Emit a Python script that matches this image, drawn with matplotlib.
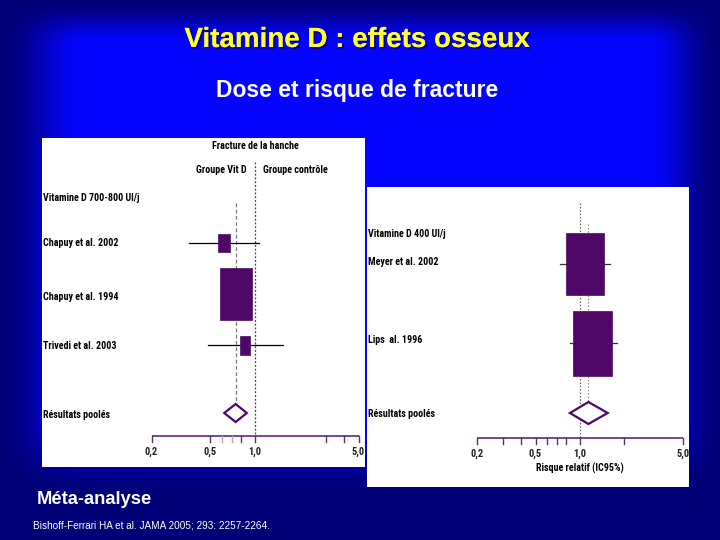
import numpy as np
import matplotlib
matplotlib.use("Agg")
import matplotlib.pyplot as plt
from matplotlib.patches import Rectangle, Polygon
import matplotlib.patheffects as pe

# ---------------- data ----------------
left_header = "Vitamine D 700-800 UI/j"
left_studies = ["Chapuy et al. 2002", "Chapuy et al. 1994", "Trivedi et al. 2003"]
left_rr = [0.62, 0.74, 0.86]
left_lo = [0.36, 0.62, 0.48]
left_hi = [1.06, 0.89, 1.54]
left_pooled = [0.74, 0.62, 0.88]          # rr, lo, hi

right_header = "Vitamine D 400 UI/j"
right_studies = ["Meyer et al. 2002", "Lips  al. 1996"]
right_rr = [1.08, 1.21]
right_lo = [0.73, 0.855]
right_hi = [1.60, 1.77]
right_pooled = [1.14, 0.855, 1.54]

left_ticks = [0.2, 0.5, 0.6, 0.7, 0.8, 1.0, 3.0, 4.0, 5.0]
right_ticks = [0.2, 0.3, 0.4, 0.5, 0.6, 0.7, 0.8, 1.0, 2.0, 5.0]
tick_labels = {0.2: "0,2", 0.5: "0,5", 1.0: "1,0", 5.0: "5,0"}

# ---------------- layout / style ----------------
W, H = 720, 540
PURPLE = "#4e0766"
AXC = "#5e2a72"
NARROW = ["Roboto Condensed", "Liberation Sans Narrow", "DejaVu Sans"]
SANS = ["Liberation Sans", "DejaVu Sans"]

fig = plt.figure(figsize=(7.2, 5.4), dpi=100)

# background gradient
bg = fig.add_axes([0, 0, 1, 1])
yy, xx = np.mgrid[0:H, 0:W].astype(float)
def ss(v):
    v = np.clip(v, 0, 1)
    return v * v * (3 - 2 * v)
t = ss(xx / 85) * ss((W - xx) / 75) * ss(yy / 45) * ss((492 - yy) / 70)
navy = np.array([0.0, 0.0, 0.47])
blue = np.array([0.02, 0.02, 1.0])
img = navy[None, None, :] * (1 - t[..., None]) + blue[None, None, :] * t[..., None]
bg.imshow(img, extent=[0, W, H, 0], aspect="auto")
bg.set_xlim(0, W)
bg.set_ylim(H, 0)
bg.axis("off")

bg.text(357, 40, "Vitamine D : effets osseux", color="#ffff33", fontsize=20,
        fontweight="bold", family=SANS, ha="center", va="center",
        path_effects=[pe.withSimplePatchShadow(offset=(1.2, -1.2),
                                               shadow_rgbFace="#000044", alpha=0.6),
                      pe.Normal()])
bg.text(357, 90, "Dose et risque de fracture", color="white", fontsize=16.5,
        fontweight="bold", family=SANS, ha="center", va="center")
bg.text(37, 500, "Méta-analyse", color="white", fontsize=13.2, fontweight="bold",
        family=SANS, ha="left", va="center")
bg.text(33, 525, "Bishoff-Ferrari HA et al. JAMA 2005; 293: 2257-2264.", color="white",
        fontsize=7.2, family=SANS, ha="left", va="center")


def make_panel(box, a_px, b_px):
    x0, y0, x1, y1 = box
    ax = fig.add_axes([x0 / W, (H - y1) / H, (x1 - x0) / W, (y1 - y0) / H])
    ax.set_facecolor("white")
    ax.set_xscale("log")
    per = (b_px - a_px) / np.log10(25.0)
    lo = 10 ** (np.log10(0.2) - (a_px - x0) / per)
    hi = 10 ** (np.log10(5.0) + (x1 - b_px) / per)
    ax.set_xlim(lo, hi)
    ax.set_ylim(y1, y0)
    ax.set_xticks([])
    ax.set_yticks([])
    ax.minorticks_off()
    for s in ax.spines.values():
        s.set_visible(False)
    px2v = lambda p: 10 ** (np.log10(0.2) + (p - a_px) / per)
    return ax, per, px2v


def draw_box(ax, per, v, yc, wpx, hpx):
    half = wpx / 2 / per
    l = 10 ** (np.log10(v) - half)
    r = 10 ** (np.log10(v) + half)
    ax.add_patch(Rectangle((l, yc - hpx / 2), r - l, hpx, facecolor=PURPLE,
                           edgecolor=PURPLE, lw=0.5, zorder=4))


def draw_diamond(ax, rr, lo, hi, yc, hh):
    ax.add_patch(Polygon([(lo, yc), (rr, yc - hh), (hi, yc), (rr, yc + hh)],
                         closed=True, facecolor="white", edgecolor=PURPLE, lw=1.6, zorder=4))


def draw_axis(ax, ticks, y_axis, minor_light=()):
    ax.plot([0.2, 5.0], [y_axis, y_axis], color=AXC, lw=1.2, zorder=3,
            solid_capstyle="butt")
    for tv in ticks:
        c = "#b9a8c0" if tv in minor_light else AXC
        ax.plot([tv, tv], [y_axis, y_axis + 6], color=c, lw=1.0, zorder=3)
        if tv in tick_labels:
            ax.text(tv, y_axis + 16, tick_labels[tv], ha="center", va="center",
                    fontsize=7.5, fontweight="bold", family=NARROW,
                    fontstretch="condensed", color="#222222")


lab = dict(fontsize=7.2, fontweight="bold", family=NARROW, fontstretch="condensed",
           color="black", va="center")

# ---------------- left panel ----------------
axL, perL, pxL = make_panel((42, 138, 365, 467), 151.5, 358.5)
axL.text(pxL(255), 146, "Fracture de la hanche", ha="center", **lab)
axL.text(pxL(247), 170, "Groupe Vit D", ha="right", **lab)
axL.text(pxL(263), 170, "Groupe contrôle", ha="left", **lab)
axL.text(pxL(43), 198, left_header, ha="left", **lab)
rowsL = [243, 294, 345]
labyL = [243, 297, 346]
boxL = [(12, 18), (32, 52), (10, 19)]
axL.plot([1.0, 1.0], [162, 436], color=AXC, lw=0.9, ls=(0, (1.5, 1.5)), zorder=2)
axL.plot([left_pooled[0]] * 2, [203, 404], color="#777777", lw=0.9,
         ls=(0, (3, 2)), zorder=2)
for name, rr, lo, hi, y, ly, (bw, bh) in zip(left_studies, left_rr, left_lo, left_hi,
                                             rowsL, labyL, boxL):
    axL.plot([lo, hi], [y, y], color="black", lw=0.9, zorder=3)
    draw_box(axL, perL, rr, y, bw, bh)
    axL.text(pxL(43), ly, name, ha="left", **lab)
draw_diamond(axL, left_pooled[0], left_pooled[1], left_pooled[2], 413, 9)
axL.text(pxL(43), 415, "Résultats poolés", ha="left", **lab)
draw_axis(axL, left_ticks, 436, minor_light=(0.6, 0.7))

# ---------------- right panel ----------------
axR, perR, pxR = make_panel((367, 187, 689, 487), 476.7, 683.3)
axR.text(pxR(368), 234, right_header, ha="left", **lab)
rowsR = [264, 343]
labyR = [262, 340]
boxR = [(38, 62), (39, 65)]
axR.plot([1.0, 1.0], [203, 437], color="#666666", lw=0.9, ls=(0, (1.2, 1.5)), zorder=2)
axR.plot([right_pooled[0]] * 2, [224, 402], color="#888888", lw=0.9,
         ls=(0, (1.2, 1.5)), zorder=2)
for name, rr, lo, hi, y, ly, (bw, bh) in zip(right_studies, right_rr, right_lo, right_hi,
                                             rowsR, labyR, boxR):
    axR.plot([lo, hi], [y, y], color="#333333", lw=0.9, zorder=3)
    draw_box(axR, perR, rr, y, bw, bh)
    axR.text(pxR(368), ly, name, ha="left", **lab)
draw_diamond(axR, right_pooled[0], right_pooled[1], right_pooled[2], 413, 11)
axR.text(pxR(368), 414, "Résultats poolés", ha="left", **lab)
draw_axis(axR, right_ticks, 437.5)
axR.text(1.0, 468, "Risque relatif (IC95%)", ha="center", **lab)

fig.savefig("out.png", dpi=100)
